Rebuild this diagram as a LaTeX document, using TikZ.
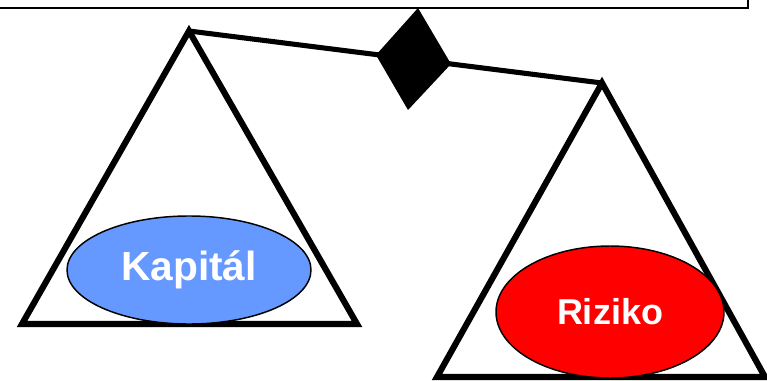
\documentclass[tikz,border=0pt]{standalone}
\usepackage{fontspec}
\setmainfont{Liberation Sans}
\usetikzlibrary{shapes.geometric}
\definecolor{capblue}{HTML}{6699FF}
\definecolor{riskred}{HTML}{FF0000}
\tikzset{
  pan/.style={draw=black, line width=4.6pt, line join=miter},
  beam/.style={draw=black, line width=3.8pt},
  weight/.style={ellipse, draw=black, line width=1.1pt, inner sep=0pt,
    text=white, font=\bfseries},
}
\begin{document}
\begin{tikzpicture}[x=0.75pt, y=-0.75pt]
  \useasboundingbox (0,0) rectangle (767,381);
  % frame edge at the top
  \draw[line width=2pt] (0,8) -- (748,8) -- (748,0);
  % scale pans
  \coordinate (lt) at (189,31);
  \coordinate (lbl) at (22,324);
  \coordinate (lbr) at (357,324);
  \coordinate (rt) at (602,83);
  \coordinate (rbl) at (437,377);
  \coordinate (rbr) at (765,377);
  \draw[pan] (lt) -- (lbl) -- (lbr) -- cycle;
  \draw[pan] (rt) -- (rbl) -- (rbr) -- cycle;
  % balance beam
  \draw[beam] (lt) -- (rt);
  % pivot
  \fill[black] (418,8) -- (451,64) -- (408,110) -- (376,55) -- cycle;
  % weights
  \node[weight, fill=capblue, minimum width=183pt, minimum height=81pt,
    font=\fontsize{30.5}{36}\bfseries] (cap) at (189,270) {Kapitál};
  \node[weight, fill=riskred, minimum width=171pt, minimum height=99pt,
    font=\fontsize{27}{32}\bfseries] (risk) at (610,312) {Riziko};
\end{tikzpicture}
\end{document}
